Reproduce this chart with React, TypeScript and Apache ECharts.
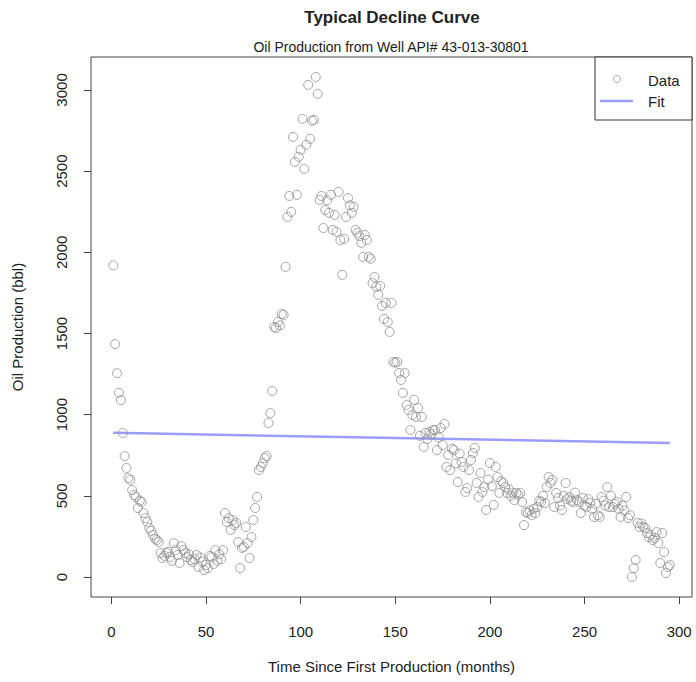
import React, { useEffect, useRef } from "react";
import * as echarts from "echarts";

const oilProduction: number[] = [
  1920, 1435, 1255, 1135, 1090, 887, 745, 672, 610, 598,
  536, 505, 493, 425, 470, 462, 394, 363, 339, 302,
  285, 259, 236, 228, 216, 148, 117, 130, 148, 155,
  123, 100, 209, 166, 136, 86, 190, 166, 148, 123,
  140, 105, 92, 110, 136, 62, 120, 95, 43, 74,
  55, 130, 123, 80, 166, 100, 140, 110, 166, 394,
  339, 363, 290, 351, 320, 333, 216, 55, 179, 185,
  308, 209, 117, 246, 351, 425, 493, 659, 678, 702,
  733, 745, 949, 1010, 1146, 1540, 1534, 1571, 1550, 1620,
  1615, 1910, 2218, 2347, 2249, 2711, 2557, 2354, 2588, 2631,
  2822, 2514, 2662, 3031, 2699, 2810, 2816, 3080, 2976, 2323,
  2347, 2150, 2261, 2320, 2243, 2354, 2138, 2230, 2126, 2372,
  2076, 1861, 2083, 2218, 2335, 2290, 2243, 2280, 2138, 2120,
  2100, 2058, 1972, 2107, 2076, 1972, 1960, 1811, 1848, 1787,
  1738, 1793, 1670, 1590, 1688, 1571, 1510, 1688, 1325, 1320,
  1325, 1257, 1214, 1134, 1257, 1060, 1029, 906, 998, 1091,
  986, 1041, 870, 986, 801, 887, 850, 893, 880, 906,
  906, 782, 860, 918, 813, 943, 678, 752, 659, 790,
  782, 700, 585, 760, 709, 678, 524, 548, 659, 721,
  764, 795, 579, 493, 641, 524, 554, 413, 600, 702,
  560, 444, 678, 616, 518, 590, 579, 554, 518, 540,
  500, 518, 474, 518, 505, 518, 462, 320, 400, 394,
  410, 382, 420, 394, 431, 470, 462, 500, 456, 554,
  616, 580, 598, 431, 518, 487, 440, 413, 500, 579,
  480, 493, 470, 462, 520, 474, 462, 394, 487, 440,
  431, 480, 456, 420, 370, 450, 380, 370, 493, 470,
  440, 554, 431, 500, 431, 450, 462, 420, 370, 440,
  410, 493, 363, 380, 0, 55, 105, 333, 308, 330,
  310, 302, 271, 246, 260, 228, 240, 277, 209, 86,
  271, 154, 25, 62, 74,
];

const fitMonths: number[] = [1, 295];
const fitValues: number[] = [888, 826];

const xTicks: number[] = [0, 50, 100, 150, 200, 250, 300];
const yTicks: number[] = [0, 500, 1000, 1500, 2000, 2500, 3000];

const titleText = "Typical Decline Curve";
const subtitleText = "Oil Production from Well API# 43-013-30801";
const xAxisTitle = "Time Since First Production (months)";
const yAxisTitle = "Oil Production (bbl)";
const legendLabels = ["Data", "Fit"];

const FONT = "'Liberation Sans', Arial, Helvetica, sans-serif";
const TEXT = "#222";

export default function App() {
  const ref = useRef<HTMLDivElement>(null);

  useEffect(() => {
    if (!ref.current) return;
    const chart = echarts.init(ref.current, undefined, { renderer: "svg" });
    const dataPoints = oilProduction.map((v, i) => [i + 1, v]);
    const fitPoints = fitMonths.map((m, i) => [m, fitValues[i]]);

    chart.setOption({
      animation: false,
      backgroundColor: "#fff",
      textStyle: { fontFamily: FONT },
      grid: {
        left: 91,
        right: 4,
        top: 57,
        bottom: 85,
        show: true,
        borderColor: "#444",
        borderWidth: 1,
        backgroundColor: "transparent",
        containLabel: false,
        outerBoundsMode: "none",
      },
      xAxis: {
        type: "value",
        min: -10.76,
        max: 306.76,
        name: xAxisTitle,
        nameLocation: "middle",
        nameGap: 62,
        nameTextStyle: { fontSize: 15, color: TEXT, fontFamily: FONT },
        axisLine: { show: false, onZero: false },
        axisTick: {
          show: true,
          length: 7,
          inside: false,
          customValues: xTicks,
          lineStyle: { color: "#444" },
        },
        axisLabel: {
          customValues: xTicks,
          fontSize: 15,
          color: TEXT,
          margin: 27,
          fontFamily: FONT,
          formatter: (v: number) => String(v),
        },
        splitLine: { show: false },
      },
      yAxis: {
        type: "value",
        min: -123,
        max: 3203,
        name: yAxisTitle,
        nameLocation: "middle",
        nameGap: 66,
        nameTextStyle: { fontSize: 15, color: TEXT, fontFamily: FONT },
        axisLine: { show: false, onZero: false },
        axisTick: {
          show: true,
          length: 7,
          inside: false,
          customValues: yTicks,
          lineStyle: { color: "#444" },
        },
        axisLabel: {
          customValues: yTicks,
          fontSize: 15,
          color: TEXT,
          margin: 22,
          rotate: 90,
          fontFamily: FONT,
          formatter: (v: number) => String(v),
        },
        splitLine: { show: false },
      },
      series: [
        {
          name: "Data",
          type: "scatter",
          data: dataPoints,
          symbol: "circle",
          symbolSize: 9,
          itemStyle: {
            color: "transparent",
            borderColor: "#8f8f8f",
            borderWidth: 1,
          },
          emphasis: { disabled: true },
          z: 3,
        },
        {
          name: "Fit",
          type: "line",
          data: fitPoints,
          symbol: "none",
          lineStyle: { color: "#9c9cff", width: 2.5 },
          emphasis: { disabled: true },
          z: 2,
        },
      ],
      graphic: [
        {
          type: "text",
          x: 392,
          y: 17,
          style: {
            text: titleText,
            fontSize: 17,
            fontWeight: "bold",
            fill: TEXT,
            align: "center",
            verticalAlign: "middle",
            fontFamily: FONT,
          },
        },
        {
          type: "text",
          x: 391,
          y: 47,
          style: {
            text: subtitleText,
            fontSize: 14,
            fill: TEXT,
            align: "center",
            verticalAlign: "middle",
            fontFamily: FONT,
          },
        },
        {
          type: "rect",
          shape: { x: 595, y: 57, width: 97, height: 63 },
          style: { fill: "#fff", stroke: "#333", lineWidth: 1 },
          z: 10,
        },
        {
          type: "circle",
          shape: { cx: 617, cy: 79, r: 3.5 },
          style: { fill: "transparent", stroke: "#aaa", lineWidth: 1 },
          z: 11,
        },
        {
          type: "line",
          shape: { x1: 600, y1: 101, x2: 633, y2: 101 },
          style: { stroke: "#9c9cff", lineWidth: 2.5 },
          z: 11,
        },
        {
          type: "text",
          x: 648,
          y: 80,
          style: {
            text: legendLabels[0],
            fontSize: 15,
            fill: TEXT,
            align: "left",
            verticalAlign: "middle",
            fontFamily: FONT,
          },
          z: 11,
        },
        {
          type: "text",
          x: 648,
          y: 101,
          style: {
            text: legendLabels[1],
            fontSize: 15,
            fill: TEXT,
            align: "left",
            verticalAlign: "middle",
            fontFamily: FONT,
          },
          z: 11,
        },
      ],
    });

    return () => chart.dispose();
  }, []);

  return <div ref={ref} style={{ width: 696, height: 682, position: "absolute", left: 0, top: 0 }} />;
}
